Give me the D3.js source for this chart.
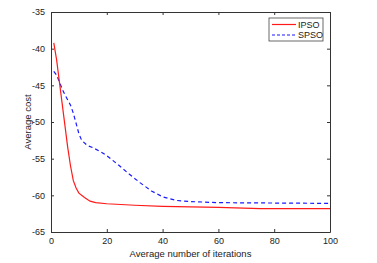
<html>
<head>
<meta charset="utf-8">
<script src="https://d3js.org/d3.v7.min.js"></script>
<style>
  body { margin: 0; background: #fff; }
  text { font-family: "Liberation Sans", Arial, sans-serif; fill: #222; }
</style>
</head>
<body>
<svg id="chart" width="377" height="263"></svg>
<script>
  // iteration, cost
  const ipso = [[1,-39.2],[2,-41.5],[3,-44.5],[4,-47.5],[5,-50.5],[6,-53.5],[7,-56],[8,-58],[9,-59],[10,-59.7],
    [12,-60.3],[14,-60.8],[16,-61],[20,-61.15],[30,-61.35],[40,-61.5],[60,-61.65],[75,-61.8],[100,-61.8]];
  const spso = [[1,-43.1],[2,-43.6],[3,-44.5],[4,-45.5],[5,-46.3],[6,-47],[7,-47.7],[8,-48.8],[9,-50.2],[10,-51.6],
    [11,-52.5],[13,-53.2],[15,-53.5],[18,-54.1],[20,-54.6],[24,-55.8],[28,-57.1],[32,-58.3],[36,-59.4],[40,-60.2],
    [45,-60.7],[50,-60.85],[60,-61],[80,-61.05],[100,-61.1]];
  const xTicks = [0, 20, 40, 60, 80, 100];
  const yTicks = [-35, -40, -45, -50, -55, -60, -65];
  const seriesNames = ["IPSO", "SPSO"];

  const svg = d3.select("svg#chart");
  const margin = { top: 12, right: 47, bottom: 31, left: 51 };
  const width = +svg.attr("width"), height = +svg.attr("height");
  const chartWidth = width - margin.left - margin.right;
  const chartHeight = height - margin.top - margin.bottom;

  const x = d3.scaleLinear().domain([0, 100]).range([0, chartWidth]);
  const y = d3.scaleLinear().domain([-65, -35]).range([chartHeight, 0]);

  const g = svg.append("g").attr("transform", "translate(" + margin.left + "," + margin.top + ")");

  const line = d3.line().x(d => x(d[0])).y(d => y(d[1]));

  g.append("path").datum(spso)
    .attr("d", line).attr("fill", "none")
    .attr("stroke", "#1a1aff").attr("stroke-width", 1.2)
    .attr("stroke-dasharray", "4,3");
  g.append("path").datum(ipso)
    .attr("d", line).attr("fill", "none")
    .attr("stroke", "#ff1a1a").attr("stroke-width", 1.2);

  // axes, ticks inward like matlab
  const styleAxis = sel => {
    sel.select(".domain").attr("stroke", "#333");
    sel.selectAll(".tick line").attr("stroke", "#333");
    sel.selectAll("text").style("font-size", "9px").attr("fill", "#222");
  };
  const plain = d => String(d);
  g.append("g").attr("transform", "translate(0," + chartHeight + ")")
    .call(d3.axisBottom(x).tickValues(xTicks).tickSizeInner(-3).tickSizeOuter(0).tickPadding(6).tickFormat(plain))
    .call(styleAxis);
  g.append("g")
    .call(d3.axisLeft(y).tickValues(yTicks).tickSizeInner(-3).tickSizeOuter(0).tickPadding(6).tickFormat(plain))
    .call(styleAxis);
  g.append("g")
    .call(d3.axisTop(x).tickValues(xTicks).tickSizeInner(-3).tickSizeOuter(0).tickFormat(""))
    .call(styleAxis);
  g.append("g").attr("transform", "translate(" + chartWidth + ",0)")
    .call(d3.axisRight(y).tickValues(yTicks).tickSizeInner(-3).tickSizeOuter(0).tickFormat(""))
    .call(styleAxis);

  svg.append("text")
    .text("Average number of iterations")
    .attr("x", margin.left + chartWidth / 2).attr("y", 257)
    .attr("text-anchor", "middle").style("font-size", "9.5px");
  svg.append("text")
    .text("Average cost")
    .attr("transform", "translate(31," + (margin.top + chartHeight / 2) + ") rotate(-90)")
    .attr("text-anchor", "middle").style("font-size", "9.5px");

  // legend
  const legend = svg.append("g").attr("transform", "translate(269,18)");
  legend.append("rect").attr("width", 54).attr("height", 23)
    .attr("fill", "#fff").attr("stroke", "#444").attr("stroke-width", 0.8);
  const legendColors = ["#ff1a1a", "#1a1aff"];
  const legendDash = [null, "3,2"];
  seriesNames.forEach((name, i) => {
    const ly = 6.5 + i * 10.5;
    legend.append("line").attr("x1", 3).attr("x2", 27).attr("y1", ly).attr("y2", ly)
      .attr("stroke", legendColors[i]).attr("stroke-width", 1.2)
      .attr("stroke-dasharray", legendDash[i]);
    legend.append("text").text(name).attr("x", 29).attr("y", ly + 3.2)
      .style("font-size", "9px");
  });
</script>
</body>
</html>
